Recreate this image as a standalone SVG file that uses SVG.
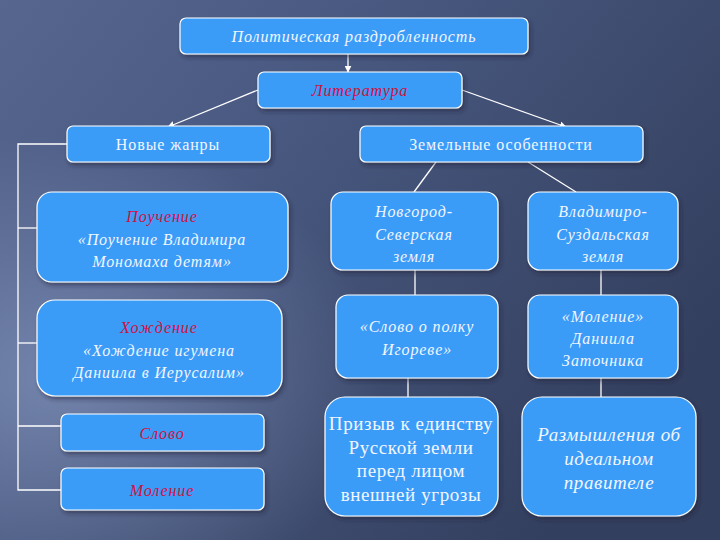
<svg xmlns="http://www.w3.org/2000/svg" width="720" height="540" viewBox="0 0 720 540">
<defs>
<linearGradient id="bg" x1="0" y1="0" x2="1" y2="0.6">
<stop offset="0" stop-color="#56668f"/>
<stop offset="0.35" stop-color="#4a5a82"/>
<stop offset="1" stop-color="#333f5e"/>
</linearGradient>
<radialGradient id="glow" cx="0.08" cy="0.7" r="0.45">
<stop offset="0" stop-color="#8fa0c8" stop-opacity="0.6"/>
<stop offset="1" stop-color="#8fa0c8" stop-opacity="0"/>
</radialGradient>
<filter id="sh" x="-10%" y="-10%" width="125%" height="130%">
<feDropShadow dx="2" dy="3" stdDeviation="2" flood-color="#1a2238" flood-opacity="0.5"/>
</filter>
<marker id="ah" viewBox="0 0 10 10" refX="9" refY="5" markerWidth="7" markerHeight="7" orient="auto" markerUnits="userSpaceOnUse">
<path d="M0,0 L10,5 L0,10 z" fill="#ffffff"/>
</marker>
</defs>
<style>
.box{fill:#3a9cf8;stroke:#ffffff;stroke-width:1.2;filter:url(#sh)}
.t{font-family:"Liberation Serif","DejaVu Serif",serif;font-size:16px;letter-spacing:0.9px;fill:#f2f6ff;text-anchor:middle}
.i{font-style:italic}
.r{fill:#d01040}
.big{font-size:19px;letter-spacing:0.6px}
.ln{stroke:#ffffff;stroke-width:1.3;fill:none}
</style>
<rect width="720" height="540" fill="url(#bg)"/>
<rect width="720" height="540" fill="url(#glow)"/>
<g id="connectors">
<line class="ln" x1="348" y1="54" x2="348" y2="72" marker-end="url(#ah)"/>
<line class="ln" x1="258" y1="90" x2="168" y2="127" marker-end="url(#ah)"/>
<line class="ln" x1="462" y1="90" x2="566" y2="127" marker-end="url(#ah)"/>
<polyline class="ln" points="67,144 18,144 18,490 61,490"/>
<line class="ln" x1="18" y1="228" x2="37" y2="228"/>
<line class="ln" x1="18" y1="343" x2="37" y2="343"/>
<line class="ln" x1="18" y1="426" x2="61" y2="426"/>
<line class="ln" x1="436" y1="162" x2="414" y2="192"/>
<line class="ln" x1="528" y1="162" x2="576" y2="192"/>
<line class="ln" x1="415" y1="270" x2="415" y2="295"/>
<line class="ln" x1="601" y1="270" x2="601" y2="295"/>
<line class="ln" x1="408" y1="378" x2="408" y2="397"/>
<line class="ln" x1="601" y1="378" x2="601" y2="397"/>
</g>
<g id="n-polit"><rect class="box" x="180" y="18" width="348" height="36" rx="6"/><text class="t i" x="354" y="42">Политическая раздробленность</text></g>
<g id="n-lit"><rect class="box" x="258" y="72" width="204" height="36" rx="6"/><text class="t i r" x="360" y="96">Литература</text></g>
<g id="n-zhanry"><rect class="box" x="67" y="126" width="203" height="36" rx="6"/><text class="t" x="168" y="150">Новые жанры</text></g>
<g id="n-zemli"><rect class="box" x="360" y="126" width="283" height="36" rx="6"/><text class="t" x="501" y="150">Земельные особенности</text></g>
<g id="n-pouch"><rect class="box" x="37" y="192" width="251" height="90" rx="15"/>
<text class="t i r" x="162" y="222">Поучение</text>
<text class="t i" x="162" y="245">«Поучение Владимира</text>
<text class="t i" x="162" y="267">Мономаха детям»</text></g>
<g id="n-hozh"><rect class="box" x="37" y="300" width="245" height="96" rx="18"/>
<text class="t i r" x="159" y="333">Хождение</text>
<text class="t i" x="159" y="356">«Хождение игумена</text>
<text class="t i" x="159" y="378">Даниила в Иерусалим»</text></g>
<g id="n-slovo"><rect class="box" x="61" y="414" width="203" height="37" rx="6"/><text class="t i r" x="162" y="439">Слово</text></g>
<g id="n-molenie"><rect class="box" x="61" y="468" width="203" height="42" rx="6"/><text class="t i r" x="162" y="496">Моление</text></g>
<g id="n-novg"><rect class="box" x="331" y="192" width="167" height="78" rx="12"/>
<text class="t i" x="414" y="217">Новгород-</text>
<text class="t i" x="414" y="240">Северская</text>
<text class="t i" x="414" y="262">земля</text></g>
<g id="n-vlad"><rect class="box" x="528" y="192" width="150" height="78" rx="12"/>
<text class="t i" x="603" y="217">Владимиро-</text>
<text class="t i" x="603" y="240">Суздальская</text>
<text class="t i" x="603" y="262">земля</text></g>
<g id="n-igor"><rect class="box" x="336" y="295" width="162" height="83" rx="12"/>
<text class="t i" x="417" y="332">«Слово о полку</text>
<text class="t i" x="417" y="355">Игореве»</text></g>
<g id="n-zatoch"><rect class="box" x="528" y="295" width="150" height="83" rx="12"/>
<text class="t i" x="603" y="322">«Моление»</text>
<text class="t i" x="603" y="344">Даниила</text>
<text class="t i" x="603" y="366">Заточника</text></g>
<g id="n-prizyv"><rect class="box" x="325" y="397" width="173" height="119" rx="20"/>
<text class="t big" x="411" y="430">Призыв к единству</text>
<text class="t big" x="411" y="454">Русской земли</text>
<text class="t big" x="411" y="477">перед лицом</text>
<text class="t big" x="411" y="501">внешней угрозы</text></g>
<g id="n-razm"><rect class="box" x="522" y="397" width="174" height="119" rx="20"/>
<text class="t i big" x="609" y="441">Размышления об</text>
<text class="t i big" x="609" y="465">идеальном</text>
<text class="t i big" x="609" y="489">правителе</text></g>
</svg>
